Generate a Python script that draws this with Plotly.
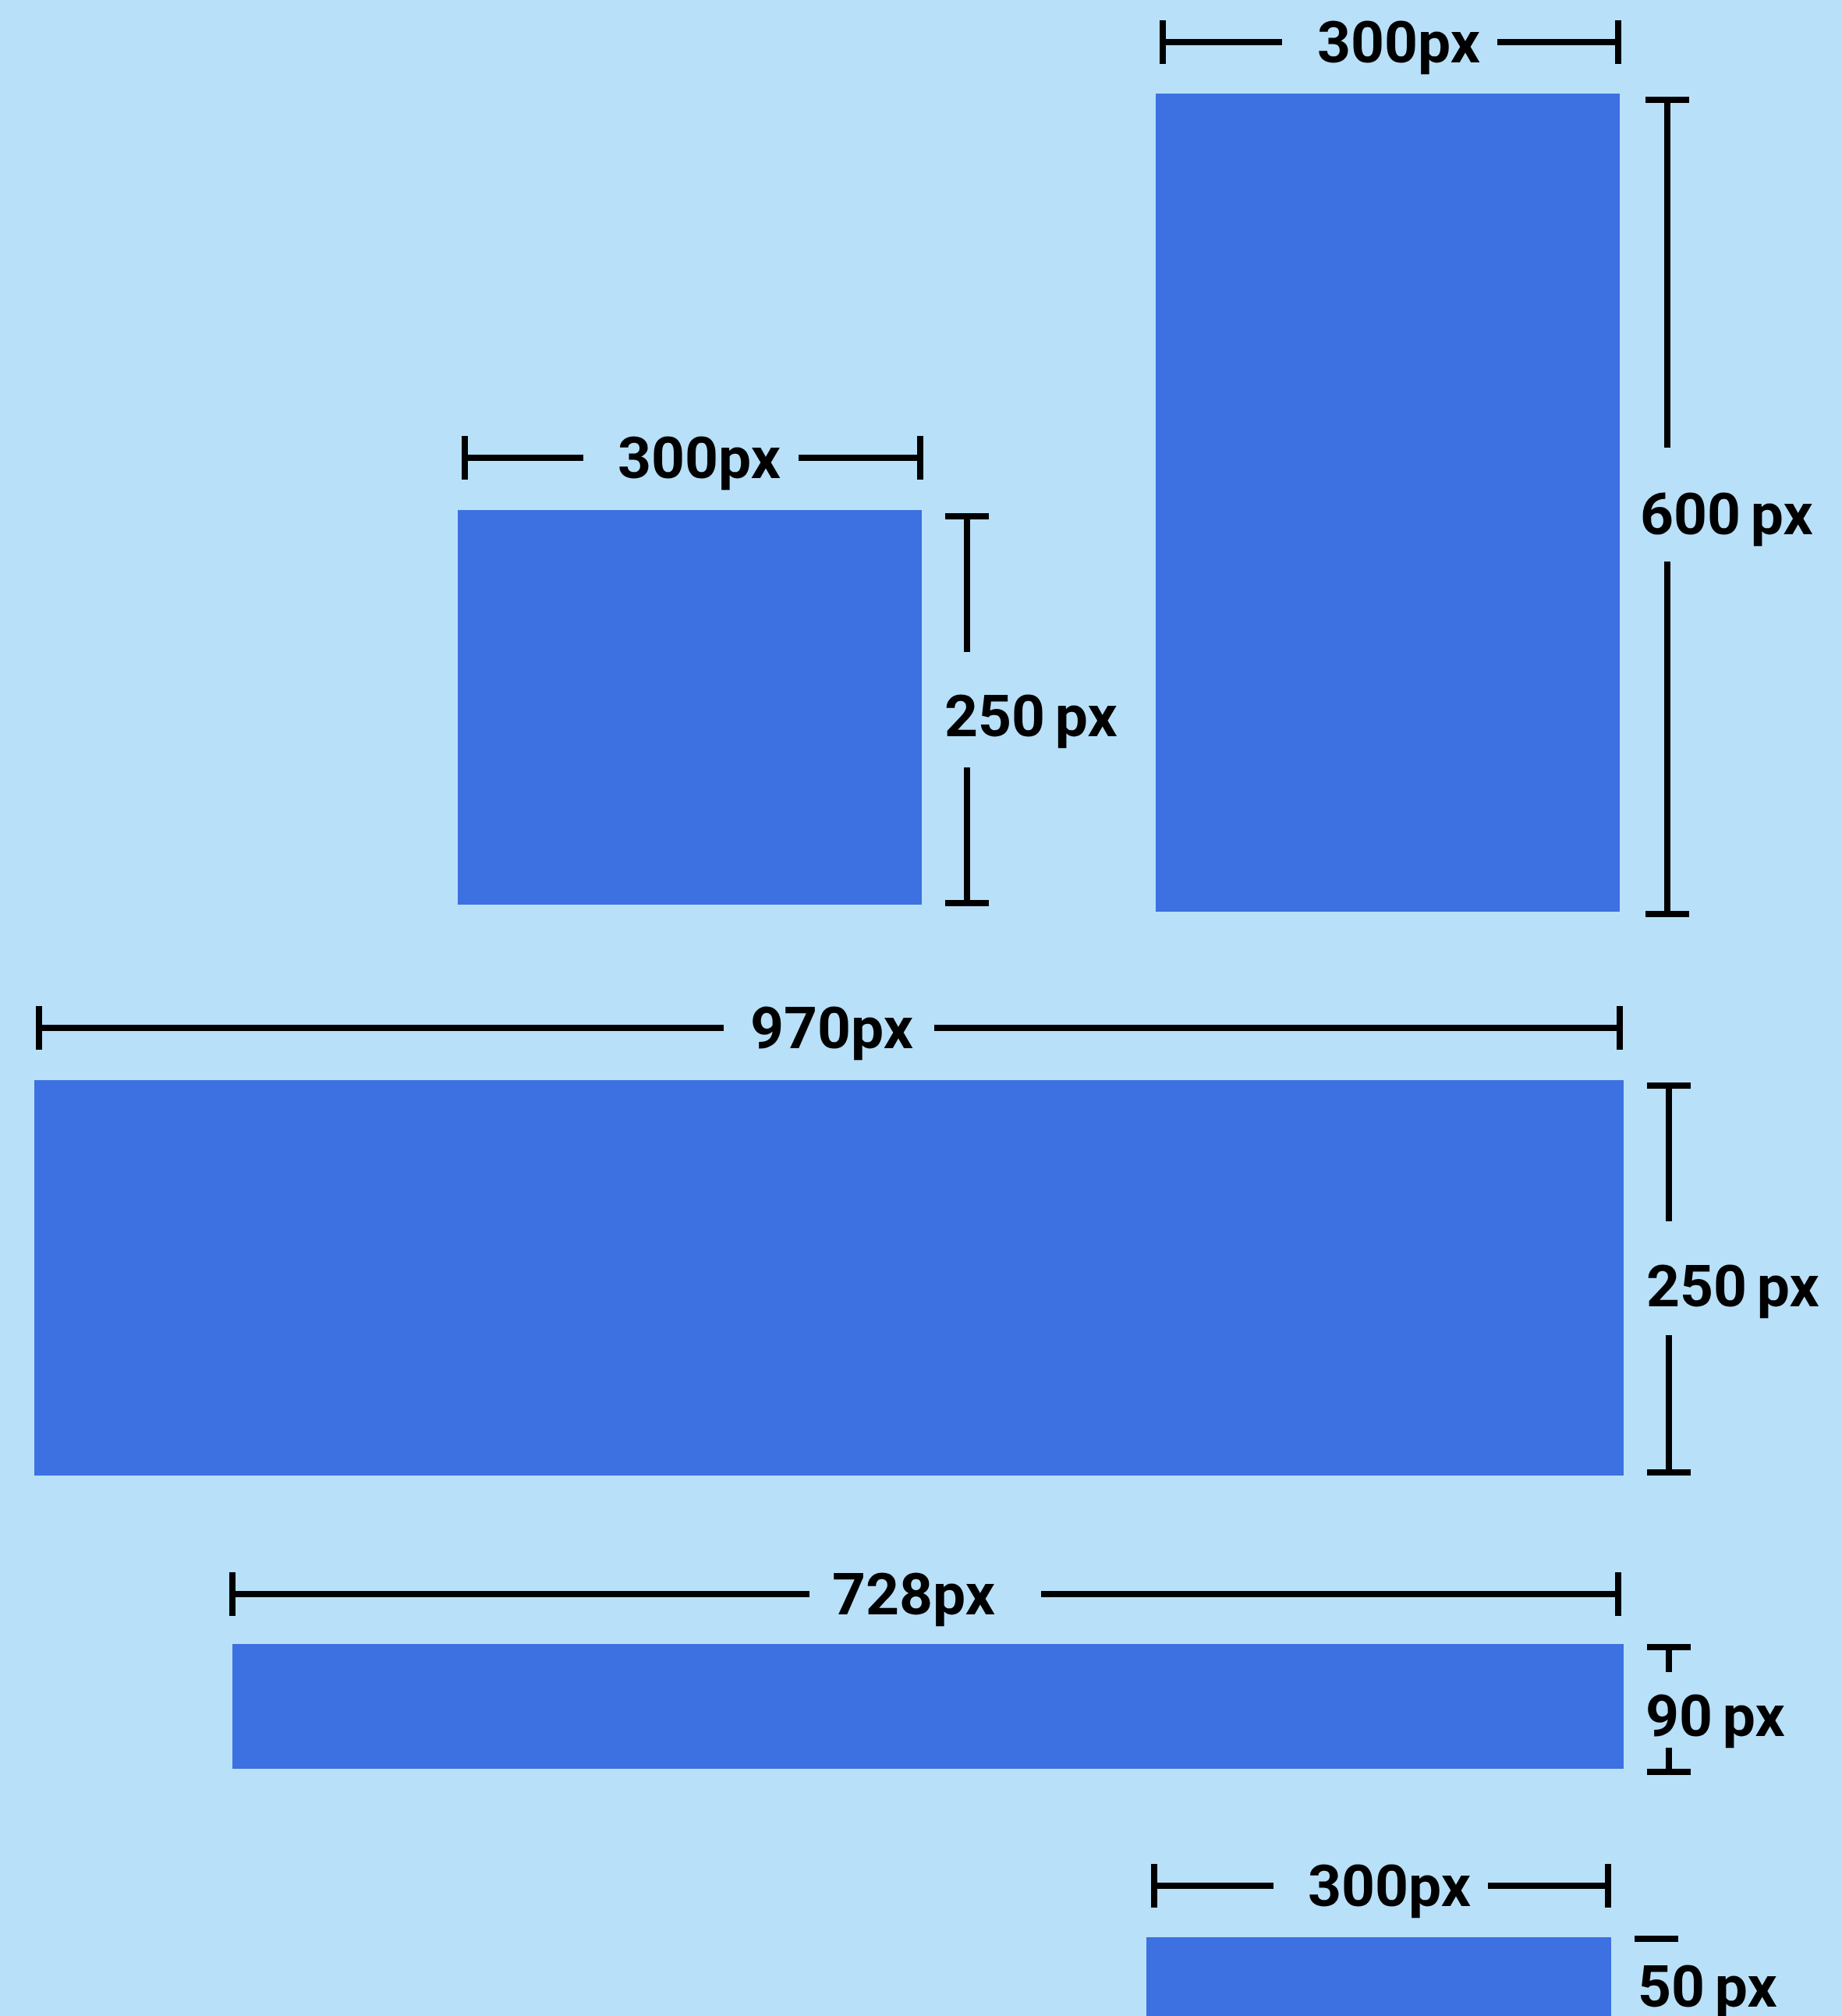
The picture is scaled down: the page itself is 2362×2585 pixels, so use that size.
import plotly.graph_objects as go

W, H = 2362, 2585
BG = "#B8E0F8"
BLUE = "#3D70E1"
INK = "#000000"
FONT = dict(family="Roboto, Inter, DejaVu Sans", size=75, color=INK, weight=700)

# banner sizes written on the chart
banner_widths = [300, 300, 970, 728, 300]
banner_heights = [600, 250, 250, 90, 50]

# canvas placement of each banner and its dimension lines
# rect = (x0, y0, x1, y1); wy = y of width line; wx = its ends; wgap = gap left for the label
# hx = x of height line; hy = its ends; hgap = gap for the label; hlab = label anchor (x, y)
boxes = [
    dict(rect=(1482, 120, 2077, 1169), wy=54, wx=(1491, 2075), wgap=(1644, 1920), wlab=1793,
         hx=2138, hy=(128, 1172), hgap=(574, 720), hlab=(2101, 659)),
    dict(rect=(587, 654, 1182, 1160), wy=587, wx=(596, 1180), wgap=(748, 1024), wlab=896,
         hx=1240, hy=(662, 1158), hgap=(836, 984), hlab=(1209, 918)),
    dict(rect=(44, 1385, 2082, 1892), wy=1318, wx=(50, 2077), wgap=(928, 1198), wlab=1066,
         hx=2140, hy=(1392, 1888), hgap=(1566, 1712), hlab=(2109, 1649)),
    dict(rect=(298, 2108, 2082, 2268), wy=2044, wx=(298, 2075), wgap=(1038, 1335), wlab=1171,
         hx=2140, hy=(2112, 2272), hgap=(2144, 2241), hlab=(2108, 2200)),
    dict(rect=(1470, 2484, 2066, 2700), wy=2418, wx=(1480, 2062), wgap=(1633, 1908), wlab=1781,
         hx=2124, hy=(2486, 2800), hgap=(2486, 2800), hlab=(2098, 2547)),
]

TICK = 28
LW = 8
SP = "\u2006"  # narrow gap between number and unit

fig = go.Figure()
shapes = []
annotations = []


def seg(x0, y0, x1, y1):
    if x0 == x1 and y0 == y1:
        return
    shapes.append(dict(type="line", xref="x", yref="y", x0=x0, y0=y0, x1=x1, y1=y1,
                       line=dict(color=INK, width=LW)))


for w, h, b in zip(banner_widths, banner_heights, boxes):
    x0, y0, x1, y1 = b["rect"]
    shapes.append(dict(type="rect", xref="x", yref="y", x0=x0, y0=y0, x1=x1, y1=y1,
                       fillcolor=BLUE, line=dict(width=0), layer="below"))

    # width dimension
    wy = b["wy"]
    a, c = b["wx"]
    seg(a, wy, b["wgap"][0], wy)
    seg(b["wgap"][1], wy, c, wy)
    seg(a, wy - TICK, a, wy + TICK)
    seg(c, wy - TICK, c, wy + TICK)
    annotations.append(dict(x=b["wlab"], y=wy, xref="x", yref="y", text=f"{w}px",
                            showarrow=False, xanchor="center", yanchor="middle", font=FONT))

    # height dimension
    hx = b["hx"]
    t, u = b["hy"]
    seg(hx, t, hx, b["hgap"][0])
    seg(hx, b["hgap"][1], hx, u)
    seg(hx - TICK, t, hx + TICK, t)
    seg(hx - TICK, u, hx + TICK, u)
    lx, ly = b["hlab"]
    annotations.append(dict(x=lx, y=ly, xref="x", yref="y", text=f"{h}{SP}px",
                            showarrow=False, xanchor="left", yanchor="middle", font=FONT))

fig.update_layout(
    width=W, height=H,
    margin=dict(l=0, r=0, t=0, b=0),
    paper_bgcolor=BG, plot_bgcolor=BG,
    showlegend=False,
    shapes=shapes, annotations=annotations,
    xaxis=dict(range=[0, W], visible=False, fixedrange=True),
    yaxis=dict(range=[H, 0], visible=False, fixedrange=True),
)

fig.write_html("out.html", config={"displayModeBar": False},
               post_script=f"document.body.style.margin='0';document.body.style.background='{BG}';")
